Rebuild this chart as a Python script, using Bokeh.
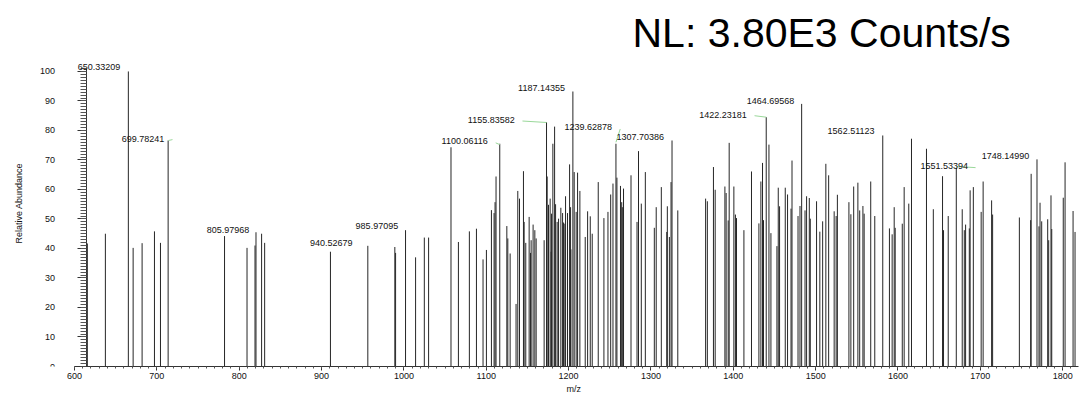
import math
from bokeh.plotting import figure
from bokeh.models import ColumnDataSource, LabelSet, Label, Range1d, SingleIntervalTicker, Title
from bokeh.core.properties import value
from bokeh.embed import file_html
from bokeh.resources import INLINE

# ---- data: peak m/z and relative abundance ----
mz = [615.6, 637.5, 665.4, 671.2, 682.1, 697.1, 704.4, 713.7, 782.2, 809.5,
      819.2, 820.4, 827.2, 830.9, 910.8, 956.2, 989.0, 989.9, 1002.0, 1014.2,
      1024.8, 1030.0, 1057.2, 1066.2, 1079.5, 1088.1, 1096.1, 1100.2, 1106.3, 1109.5,
      1110.7, 1111.9, 1116.4, 1125.0, 1126.2, 1129.0, 1136.2, 1138.3, 1140.4, 1145.2,
      1146.0, 1148.0, 1152.1, 1153.8, 1154.5, 1156.9, 1159.0, 1160.6, 1170.3, 1173.2,
      1174.0, 1175.6, 1177.6, 1178.8, 1179.3, 1180.9, 1183.0, 1184.2, 1186.1, 1187.8,
      1190.6, 1192.7, 1193.9, 1194.6, 1196.3, 1198.7, 1201.2, 1202.4, 1202.8, 1205.2,
      1206.8, 1209.2, 1210.9, 1213.7, 1220.2, 1223.1, 1226.3, 1228.7, 1236.0, 1242.9,
      1247.8, 1251.1, 1253.9, 1257.5, 1258.7, 1263.0, 1264.5, 1265.2, 1266.7, 1275.8,
      1283.1, 1284.9, 1288.3, 1293.2, 1304.1, 1306.4, 1312.6, 1319.2, 1319.9, 1322.4,
      1324.4, 1325.6, 1332.6, 1366.4, 1368.5, 1375.9, 1378.0, 1389.8, 1391.3, 1393.8,
      1395.0, 1400.7, 1402.6, 1403.9, 1412.9, 1422.1, 1431.1, 1433.5, 1435.5, 1436.7,
      1440.0, 1443.3, 1445.7, 1453.0, 1454.6, 1456.2, 1463.1, 1465.9, 1470.1, 1471.3,
      1478.6, 1481.0, 1483.0, 1487.1, 1489.0, 1492.3, 1493.5, 1501.1, 1505.1, 1508.5,
      1512.4, 1515.8, 1522.5, 1524.9, 1526.4, 1540.4, 1542.8, 1546.2, 1551.3, 1553.5,
      1557.4, 1558.9, 1566.9, 1571.8, 1581.5, 1589.6, 1592.9, 1595.4, 1596.6, 1605.2,
      1607.5, 1613.1, 1616.4, 1634.6, 1642.9, 1654.1, 1655.3, 1661.0, 1670.8, 1678.0,
      1680.5, 1682.1, 1686.6, 1687.6, 1691.5, 1701.0, 1703.4, 1713.7, 1714.9, 1747.4,
      1761.1, 1761.7, 1768.8, 1771.2, 1772.5, 1774.5, 1781.8, 1783.0, 1785.8, 1786.7,
      1800.7, 1802.9, 1812.6, 1815.0]
abundance = [41.7, 45.0, 100.0, 40.2, 41.8, 45.8, 41.9, 76.6, 44.2, 40.2,
             41.0, 45.5, 45.0, 41.9, 38.9, 40.9, 40.5, 38.5, 46.2, 37.0,
             43.7, 43.7, 74.3, 42.2, 45.8, 46.7, 36.3, 39.5, 53.0, 52.0,
             55.7, 64.4, 75.5, 47.6, 43.4, 38.3, 21.2, 59.5, 56.9, 66.2,
             49.0, 41.9, 50.7, 38.5, 42.8, 48.1, 46.2, 43.4, 42.8, 82.8,
             64.4, 54.8, 56.9, 38.9, 51.8, 75.5, 81.3, 55.0, 49.0, 50.1,
             53.8, 52.0, 48.8, 48.4, 57.7, 52.0, 68.5, 54.0, 39.7, 93.2,
             65.9, 52.4, 65.7, 59.5, 43.9, 52.6, 50.9, 45.0, 62.5, 50.3,
             52.4, 58.3, 62.0, 75.5, 64.0, 61.2, 55.7, 54.0, 60.3, 64.8,
             49.0, 73.0, 55.2, 65.9, 47.0, 54.0, 60.8, 45.6, 54.3, 43.9,
             62.5, 76.6, 52.9, 56.9, 56.0, 67.6, 59.9, 61.0, 58.8, 49.5,
             75.8, 61.0, 51.5, 50.3, 46.2, 66.1, 48.5, 62.7, 69.0, 49.6,
             84.5, 75.2, 45.2, 40.8, 60.6, 54.3, 60.6, 58.3, 53.5, 69.8,
             51.0, 54.4, 89.0, 52.9, 57.7, 57.1, 50.1, 56.0, 45.7, 49.2,
             68.7, 64.8, 52.6, 51.0, 58.2, 55.7, 51.6, 61.0, 62.3, 52.9,
             54.4, 51.8, 62.7, 51.0, 78.3, 46.8, 44.8, 54.0, 47.0, 48.4,
             60.8, 55.2, 77.2, 73.8, 53.3, 64.5, 46.2, 51.0, 67.4, 53.3,
             46.2, 48.1, 46.8, 59.7, 60.8, 52.4, 62.7, 56.3, 51.5, 50.5,
             49.6, 65.3, 70.2, 47.5, 55.5, 49.2, 49.9, 42.8, 58.0, 46.6,
             57.2, 69.2, 52.7, 45.6]

# ---- peak annotations ----
label_text = ["650.33209", "699.78241", "805.97968", "940.52679", "985.97095",
              "1100.06116", "1155.83582", "1187.14355", "1239.62878", "1307.70386",
              "1422.23181", "1464.69568", "1562.51123", "1551.53394", "1748.14990"]
label_x = [629.8, 683.3, 786.5, 911.8, 967.2, 1073.8, 1106.1, 1167.1, 1223.8, 1287.1,
           1387.5, 1445.1, 1543.0, 1656.3, 1730.5]
label_y = [101.6, 77.2, 46.4, 42.0, 47.6, 76.4, 83.6, 94.4, 81.1, 77.7,
           85.4, 90.1, 79.7, 68.1, 71.2]

# leader lines (label -> peak)
lead_x0 = [714.1, 1111.5, 1144.0, 1257.5, 1425.8, 1671.1]
lead_y0 = [76.6, 75.8, 83.2, 76.0, 85.0, 67.8]
lead_x1 = [719.0, 1116.4, 1173.2, 1262.7, 1440.0, 1694.2]
lead_y1 = [76.9, 75.2, 82.7, 80.5, 84.5, 67.4]

FONT = "Liberation Sans"

p = figure(width=1082, height=393, x_range=Range1d(510.14, 1819.2), y_range=Range1d(0, 104.05),
           output_backend="svg", toolbar_location=None,
           min_border_left=0, min_border_right=4, min_border_top=59, min_border_bottom=26,
           title="NL: 3.80E3 Counts/s")
p.xgrid.visible = False
p.ygrid.visible = False
p.outline_line_color = None
p.background_fill_color = "white"
p.border_fill_color = "white"

p.title.text_font = FONT
p.title.text_font_size = "41px"
p.title.text_font_style = "normal"
p.title.text_color = "#000000"
p.title.align = "left"
p.title.offset = 632
p.title.standoff = 7

spec = ColumnDataSource(dict(mz=mz, ab=abundance))
p.segment(x0="mz", x1="mz", y0=0, y1="ab", source=spec, line_color="#262626", line_width=1)

lead = ColumnDataSource(dict(x0=lead_x0, y0=lead_y0, x1=lead_x1, y1=lead_y1))
p.segment(x0="x0", y0="y0", x1="x1", y1="y1", source=lead, line_color="#9ad89a", line_width=1)

labs = ColumnDataSource(dict(x=label_x, y=label_y, text=label_text))
p.add_layout(LabelSet(x="x", y="y", text="text", source=labs,
                      text_font=value(FONT), text_font_size=value("9px"),
                      text_color="#111111", text_align="center", text_baseline="middle"))

# axes
xa = p.xaxis[0]
xa.bounds = (600, 1819.2)
xa.ticker = SingleIntervalTicker(interval=100, num_minor_ticks=10)
xa.major_tick_in = 0
xa.major_tick_out = 4
xa.minor_tick_in = 0
xa.minor_tick_out = 2
xa.major_label_standoff = 2
xa.major_label_text_font = FONT
xa.major_label_text_font_size = "9px"
xa.major_label_text_color = "#111111"
xa.axis_line_color = "#333333"
xa.major_tick_line_color = "#333333"
xa.minor_tick_line_color = "#555555"

p.add_layout(Title(text="m/z", align="left", offset=566, standoff=0, text_font=FONT,
                   text_font_size="9px", text_font_style="normal", text_color="#111111"),
             "below")

ya = p.yaxis[0]
ya.fixed_location = 614
ya.bounds = (0, 101)
ya.ticker = SingleIntervalTicker(interval=10, num_minor_ticks=10)
ya.major_tick_in = 0
ya.major_tick_out = 9
ya.minor_tick_in = 0
ya.minor_tick_out = 6
ya.major_label_standoff = 22
ya.major_label_text_font = FONT
ya.major_label_text_font_size = "9px"
ya.major_label_text_color = "#111111"
ya.axis_line_color = "#333333"
ya.major_tick_line_color = "#333333"
ya.minor_tick_line_color = "#555555"

p.add_layout(Label(x=533.2, y=55.3, text="Relative Abundance", angle=math.pi / 2,
                   text_font=FONT, text_font_size="9px", text_color="#111111",
                   text_align="center", text_baseline="middle"))

open("out.html", "w").write(file_html(p, INLINE))
